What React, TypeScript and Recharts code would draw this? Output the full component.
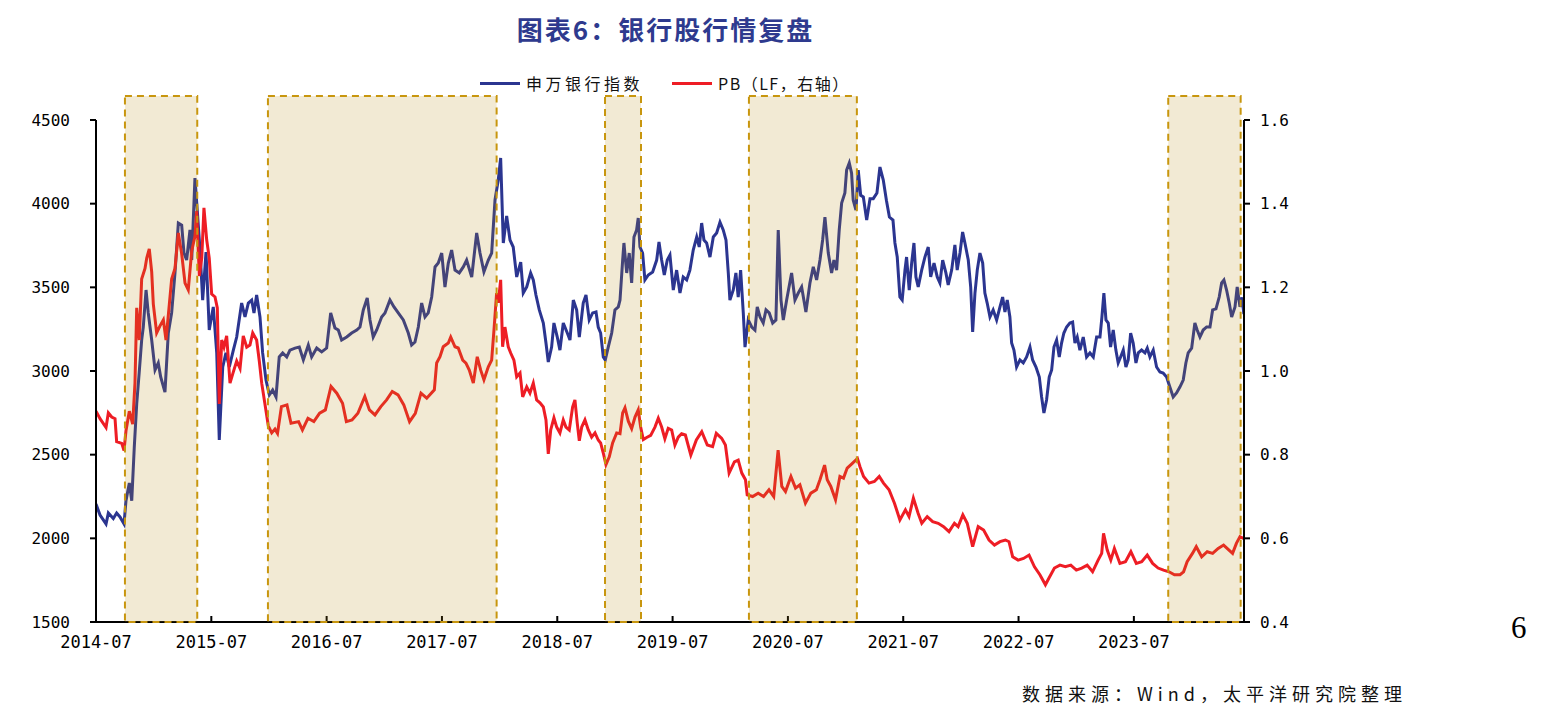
import { ComposedChart, Line, XAxis, YAxis, ReferenceArea } from "recharts";

// [decimal year, value]
const bankIndex: [number, number][] = [
  [2014.500,2205],[2014.535,2139],[2014.587,2086],[2014.607,2151],[2014.650,2118],[2014.679,2151],[2014.708,2128],[2014.743,2086],[2014.760,2225],[2014.789,2331],[2014.810,2225],[2014.832,2546],[2014.853,2803],[2014.875,2994],[2014.896,3185],[2014.910,3263],[2014.934,3484],[2014.953,3347],[2014.983,3185],[2015.012,3006],[2015.040,3048],[2015.061,2964],[2015.098,2874],[2015.127,3227],[2015.156,3347],[2015.185,3586],[2015.214,3884],[2015.243,3872],[2015.263,3705],[2015.286,3663],[2015.315,3843],[2015.330,3663],[2015.358,4153],[2015.378,3962],[2015.402,3723],[2015.425,3424],[2015.454,3711],[2015.482,3245],[2015.517,3383],[2015.547,3108],[2015.569,2588],[2015.599,3024],[2015.627,3108],[2015.656,3024],[2015.691,3125],[2015.720,3203],[2015.763,3406],[2015.792,3323],[2015.821,3406],[2015.850,3424],[2015.870,3347],[2015.893,3454],[2015.922,3323],[2015.945,3108],[2015.974,2946],
  [2016.003,2857],[2016.032,2886],[2016.061,2845],[2016.089,3084],[2016.119,3108],[2016.154,3084],[2016.182,3125],[2016.226,3137],[2016.263,3143],[2016.298,3066],[2016.341,3155],[2016.370,3084],[2016.414,3137],[2016.457,3114],[2016.500,3137],[2016.535,3347],[2016.572,3257],[2016.601,3245],[2016.630,3185],[2016.674,3203],[2016.717,3227],[2016.761,3245],[2016.789,3263],[2016.818,3365],[2016.852,3436],[2016.876,3305],[2016.904,3203],[2016.934,3245],[2016.977,3323],
  [2017.006,3347],[2017.049,3424],[2017.084,3383],[2017.121,3347],[2017.165,3305],[2017.208,3227],[2017.237,3155],[2017.266,3173],[2017.295,3263],[2017.324,3406],[2017.353,3323],[2017.381,3347],[2017.411,3442],[2017.440,3622],[2017.468,3645],[2017.498,3705],[2017.526,3502],[2017.555,3645],[2017.584,3723],[2017.613,3603],[2017.650,3586],[2017.685,3622],[2017.714,3663],[2017.758,3562],[2017.801,3825],[2017.830,3705],[2017.864,3592],[2017.902,3663],[2017.931,3705],[2017.960,4022],[2017.988,4141],
  [2018.009,4273],[2018.032,3765],[2018.061,3926],[2018.090,3783],[2018.118,3741],[2018.148,3562],[2018.183,3651],[2018.205,3466],[2018.235,3502],[2018.269,3586],[2018.292,3544],[2018.315,3454],[2018.344,3365],[2018.379,3287],[2018.402,3167],[2018.422,3054],[2018.451,3143],[2018.471,3287],[2018.500,3203],[2018.523,3125],[2018.552,3287],[2018.587,3227],[2018.610,3185],[2018.639,3424],[2018.668,3365],[2018.691,3203],[2018.725,3406],[2018.749,3454],[2018.777,3305],[2018.807,3347],[2018.836,3353],[2018.855,3263],[2018.876,3227],[2018.899,3084],[2018.916,3066],[2018.942,3143],[2018.972,3227],
  [2019.000,3365],[2019.029,3383],[2019.044,3424],[2019.067,3663],[2019.078,3765],[2019.102,3586],[2019.124,3705],[2019.145,3526],[2019.165,3801],[2019.188,3843],[2019.202,3914],[2019.217,3741],[2019.240,3705],[2019.260,3544],[2019.289,3574],[2019.327,3592],[2019.362,3663],[2019.382,3771],[2019.405,3663],[2019.428,3574],[2019.454,3663],[2019.477,3693],[2019.506,3484],[2019.535,3603],[2019.564,3466],[2019.592,3562],[2019.622,3544],[2019.650,3603],[2019.679,3723],[2019.709,3801],[2019.731,3741],[2019.752,3884],[2019.772,3783],[2019.795,3765],[2019.824,3681],[2019.853,3801],[2019.882,3825],[2019.911,3890],[2019.939,3843],[2019.963,3783],[2019.983,3586],[2019.997,3424],
  [2020.026,3484],[2020.049,3586],[2020.069,3442],[2020.090,3603],[2020.113,3347],[2020.128,3143],[2020.156,3305],[2020.186,3263],[2020.214,3245],[2020.234,3383],[2020.258,3323],[2020.286,3287],[2020.310,3365],[2020.338,3347],[2020.368,3287],[2020.396,3305],[2020.416,3843],[2020.440,3424],[2020.460,3305],[2020.489,3424],[2020.532,3586],[2020.561,3424],[2020.590,3466],[2020.619,3502],[2020.656,3353],[2020.691,3526],[2020.720,3622],[2020.749,3544],[2020.778,3663],[2020.801,3783],[2020.821,3920],[2020.850,3705],[2020.879,3586],[2020.899,3663],[2020.922,3603],[2020.945,3843],[2020.966,4004],[2020.994,4064],
  [2021.009,4201],[2021.032,4243],[2021.052,4183],[2021.066,4022],[2021.090,3962],[2021.110,4201],[2021.131,4050],[2021.154,4040],[2021.183,3902],[2021.212,4030],[2021.240,4030],[2021.272,4064],[2021.298,4219],[2021.327,4141],[2021.354,4020],[2021.380,3920],[2021.411,3902],[2021.428,3765],[2021.448,3681],[2021.471,3442],[2021.491,3424],[2021.515,3603],[2021.529,3681],[2021.552,3484],[2021.573,3645],[2021.593,3765],[2021.610,3562],[2021.630,3502],[2021.660,3603],[2021.688,3681],[2021.717,3741],[2021.738,3562],[2021.767,3645],[2021.795,3562],[2021.818,3526],[2021.842,3663],[2021.870,3586],[2021.890,3514],[2021.920,3603],[2021.948,3753],[2021.968,3603],[2021.992,3705],
  [2022.015,3831],[2022.035,3765],[2022.064,3663],[2022.085,3502],[2022.102,3233],[2022.122,3466],[2022.142,3603],[2022.165,3705],[2022.189,3645],[2022.208,3466],[2022.228,3406],[2022.252,3323],[2022.280,3365],[2022.310,3305],[2022.339,3383],[2022.362,3442],[2022.382,3353],[2022.402,3424],[2022.425,3323],[2022.440,3167],[2022.460,3125],[2022.483,3024],[2022.512,3066],[2022.541,3048],[2022.570,3084],[2022.599,3143],[2022.622,3066],[2022.651,3024],[2022.680,2964],[2022.700,2845],[2022.720,2749],[2022.743,2827],[2022.766,2964],[2022.787,3006],[2022.807,3143],[2022.830,3185],[2022.853,3084],[2022.873,3167],[2022.893,3227],[2022.917,3263],[2022.945,3287],[2022.969,3293],[2022.989,3167],
  [2023.009,3203],[2023.032,3125],[2023.061,3203],[2023.090,3084],[2023.119,3108],[2023.148,3084],[2023.177,3203],[2023.206,3203],[2023.223,3323],[2023.240,3466],[2023.258,3305],[2023.278,3287],[2023.298,3143],[2023.321,3245],[2023.344,3125],[2023.364,3048],[2023.385,3084],[2023.408,3125],[2023.431,3024],[2023.451,3066],[2023.472,3227],[2023.494,3167],[2023.518,3048],[2023.538,3108],[2023.567,3125],[2023.596,3108],[2023.616,3137],[2023.639,3084],[2023.668,3125],[2023.697,3024],[2023.726,2994],[2023.754,2988],[2023.784,2964],[2023.812,2904],[2023.841,2845],[2023.870,2869],[2023.899,2904],[2023.928,2946],[2023.951,3048],[2023.971,3108],
  [2024.001,3137],[2024.029,3287],[2024.049,3245],[2024.073,3203],[2024.101,3245],[2024.131,3263],[2024.160,3263],[2024.183,3365],[2024.212,3371],[2024.240,3442],[2024.261,3526],[2024.281,3544],[2024.304,3484],[2024.327,3406],[2024.348,3323],[2024.377,3383],[2024.396,3502],[2024.420,3383],[2024.437,3440],[2024.454,3340],
];

const pbLF: [number, number][] = [
  [2014.500,0.904],[2014.535,0.886],[2014.587,0.865],[2014.607,0.900],[2014.636,0.890],[2014.665,0.886],[2014.679,0.831],[2014.723,0.827],[2014.743,0.810],[2014.760,0.857],[2014.789,0.904],[2014.818,0.873],[2014.838,0.971],[2014.853,1.151],[2014.875,1.074],[2014.896,1.220],[2014.925,1.245],[2014.940,1.270],[2014.962,1.292],[2014.983,1.237],[2014.997,1.160],
  [2015.026,1.091],[2015.055,1.108],[2015.084,1.122],[2015.107,1.074],[2015.136,1.160],[2015.156,1.220],[2015.185,1.245],[2015.214,1.330],[2015.243,1.280],[2015.272,1.210],[2015.300,1.194],[2015.330,1.287],[2015.358,1.322],[2015.373,1.382],[2015.396,1.227],[2015.417,1.270],[2015.436,1.390],[2015.460,1.313],[2015.482,1.270],[2015.503,1.184],[2015.532,1.177],[2015.552,1.151],[2015.569,0.921],[2015.590,1.074],[2015.610,1.057],[2015.633,1.084],[2015.662,0.971],[2015.691,0.998],[2015.720,1.024],[2015.749,1.006],[2015.777,1.084],[2015.807,1.057],[2015.835,1.062],[2015.859,1.091],[2015.893,1.074],[2015.916,1.024],[2015.937,0.971],[2015.965,0.921],[2015.994,0.869],
  [2016.024,0.852],[2016.052,0.861],[2016.074,0.851],[2016.108,0.915],[2016.156,0.919],[2016.191,0.875],[2016.257,0.879],[2016.290,0.859],[2016.338,0.887],[2016.389,0.879],[2016.439,0.899],[2016.489,0.907],[2016.538,0.963],[2016.588,0.947],[2016.638,0.923],[2016.671,0.879],[2016.720,0.883],[2016.771,0.899],[2016.831,0.939],[2016.871,0.907],[2016.919,0.895],[2016.970,0.915],
  [2017.020,0.931],[2017.069,0.951],[2017.119,0.943],[2017.169,0.919],[2017.219,0.879],[2017.269,0.899],[2017.318,0.947],[2017.368,0.935],[2017.434,0.955],[2017.454,1.019],[2017.483,1.034],[2017.511,1.058],[2017.555,1.067],[2017.576,1.081],[2017.613,1.058],[2017.641,1.055],[2017.680,1.026],[2017.708,1.019],[2017.737,1.002],[2017.772,0.971],[2017.806,1.034],[2017.836,1.002],[2017.864,0.979],[2017.902,1.010],[2017.931,1.026],[2017.951,1.098],[2017.974,1.186],[2017.988,1.163],
  [2018.009,1.218],[2018.026,1.058],[2018.046,1.105],[2018.075,1.058],[2018.096,1.043],[2018.124,1.026],[2018.148,0.986],[2018.177,0.995],[2018.200,0.938],[2018.235,0.962],[2018.263,0.947],[2018.292,0.971],[2018.321,0.931],[2018.350,0.924],[2018.379,0.914],[2018.402,0.883],[2018.422,0.802],[2018.443,0.859],[2018.471,0.888],[2018.495,0.866],[2018.523,0.852],[2018.552,0.883],[2018.575,0.866],[2018.604,0.859],[2018.633,0.914],[2018.653,0.931],[2018.673,0.876],[2018.691,0.833],[2018.712,0.866],[2018.740,0.883],[2018.769,0.859],[2018.798,0.842],[2018.827,0.852],[2018.855,0.835],[2018.876,0.828],[2018.899,0.804],[2018.922,0.776],[2018.951,0.795],[2018.980,0.828],
  [2019.015,0.852],[2019.044,0.850],[2019.067,0.900],[2019.087,0.912],[2019.116,0.880],[2019.145,0.862],[2019.174,0.890],[2019.202,0.907],[2019.223,0.866],[2019.246,0.836],[2019.275,0.841],[2019.310,0.846],[2019.347,0.866],[2019.376,0.887],[2019.405,0.866],[2019.433,0.838],[2019.462,0.863],[2019.492,0.859],[2019.520,0.823],[2019.549,0.842],[2019.578,0.850],[2019.611,0.847],[2019.658,0.799],[2019.706,0.835],[2019.753,0.855],[2019.801,0.823],[2019.847,0.819],[2019.879,0.851],[2019.926,0.839],[2019.958,0.823],[2019.990,0.756],
  [2020.036,0.783],[2020.069,0.787],[2020.100,0.756],[2020.132,0.740],[2020.147,0.704],[2020.194,0.700],[2020.242,0.708],[2020.289,0.700],[2020.336,0.716],[2020.377,0.700],[2020.415,0.811],[2020.447,0.724],[2020.479,0.712],[2020.526,0.748],[2020.566,0.720],[2020.604,0.728],[2020.652,0.684],[2020.699,0.708],[2020.747,0.716],[2020.778,0.740],[2020.818,0.775],[2020.841,0.740],[2020.872,0.724],[2020.913,0.692],[2020.951,0.748],[2020.982,0.744],
  [2021.014,0.768],[2021.061,0.780],[2021.103,0.791],[2021.125,0.771],[2021.156,0.748],[2021.203,0.732],[2021.250,0.736],[2021.292,0.748],[2021.329,0.732],[2021.377,0.716],[2021.424,0.684],[2021.471,0.644],[2021.519,0.668],[2021.550,0.652],[2021.588,0.696],[2021.629,0.660],[2021.661,0.636],[2021.708,0.652],[2021.755,0.640],[2021.803,0.636],[2021.850,0.628],[2021.897,0.616],[2021.944,0.636],[2021.976,0.628],
  [2022.017,0.656],[2022.055,0.636],[2022.102,0.580],[2022.150,0.628],[2022.197,0.620],[2022.244,0.596],[2022.291,0.584],[2022.339,0.592],[2022.386,0.596],[2022.417,0.592],[2022.449,0.556],[2022.496,0.548],[2022.543,0.552],[2022.591,0.560],[2022.638,0.532],[2022.685,0.513],[2022.733,0.489],[2022.764,0.505],[2022.811,0.529],[2022.859,0.536],[2022.906,0.532],[2022.953,0.536],
  [2023.001,0.524],[2023.048,0.529],[2023.095,0.536],[2023.142,0.520],[2023.190,0.548],[2023.221,0.564],[2023.237,0.612],[2023.269,0.572],[2023.300,0.548],[2023.331,0.576],[2023.379,0.540],[2023.427,0.544],[2023.474,0.568],[2023.521,0.540],[2023.568,0.544],[2023.616,0.560],[2023.663,0.540],[2023.710,0.529],[2023.757,0.524],[2023.805,0.520],[2023.852,0.513],[2023.900,0.513],[2023.931,0.520],[2023.962,0.544],
  [2024.008,0.564],[2024.041,0.580],[2024.088,0.556],[2024.136,0.568],[2024.183,0.564],[2024.231,0.576],[2024.278,0.584],[2024.325,0.572],[2024.356,0.564],[2024.389,0.588],[2024.420,0.604],[2024.451,0.600],
];

// shaded phases (start, end) in decimal years
const phases: [number, number][] = [
  [2014.751, 2015.378],
  [2015.991, 2017.974],
  [2018.914, 2019.226],
  [2020.162, 2021.098],
  [2023.798, 2024.426],
];

const yearTicks = [2014.5, 2015.5, 2016.5, 2017.5, 2018.5, 2019.5, 2020.5, 2021.5, 2022.5, 2023.5];
const indexTicks = [1500, 2000, 2500, 3000, 3500, 4000, 4500];
const pbTicks = [0.4, 0.6, 0.8, 1.0, 1.2, 1.4, 1.6];

const indexData = bankIndex.map(([t, v]) => ({ t, v }));
const pbData = pbLF.map(([t, v]) => ({ t, v }));

const BLUE = "#2B3590";
const RED = "#EE1D25";
const GOLD = "#C8960E";
const CJK = "'Noto Sans CJK SC', sans-serif";
const NUM = "'DejaVu Sans Mono', monospace";
const X_DOMAIN: [number, number] = [2014.5, 2024.455];

function LegendItem({ color, label, left, spacing }: { color: string; label: string; left: number; spacing: number }) {
  return (
    <div style={{ position: "absolute", left, top: 71, display: "flex", alignItems: "center" }}>
      <span style={{ display: "inline-block", width: 40, height: 3, background: color }} />
      <span style={{ marginLeft: 6, fontFamily: CJK, fontSize: 16, letterSpacing: spacing, color: "#111" }}>{label}</span>
    </div>
  );
}

export default function App() {
  return (
    <div style={{ position: "absolute", left: 0, top: 0, width: 1554, height: 719, background: "#fff" }}>
      <div
        style={{
          position: "absolute", left: 0, top: 10, width: 1331, textAlign: "center",
          fontFamily: CJK, fontWeight: 700, fontSize: 26, letterSpacing: 2, color: "#2E3A8E",
        }}
      >
        图表6：银行股行情复盘
      </div>
      <LegendItem color={BLUE} label="申万银行指数" left={480} spacing={3.5} />
      <LegendItem color={RED} label="PB（LF，右轴）" left={672} spacing={1.5} />

      <div style={{ position: "absolute", left: 0, top: 0 }}>
        <ComposedChart width={1554} height={719} margin={{ top: 120, right: 250, bottom: 67, left: 36 }}>
          <XAxis
            type="number"
            dataKey="t"
            domain={X_DOMAIN}
            ticks={yearTicks}
            tickFormatter={(v: number) => `${Math.floor(v)}-07`}
            allowDataOverflow
            height={30}
            tickSize={-6}
            tickMargin={20}
            axisLine={{ stroke: "#000", strokeWidth: 2 }}
            tickLine={{ stroke: "#000", strokeWidth: 2 }}
            tick={{ fill: "#000", fontSize: 17, fontFamily: NUM }}
          />
          <YAxis
            yAxisId="left"
            domain={[1500, 4500]}
            ticks={indexTicks}
            width={60}
            tickSize={6}
            tickMargin={20}
            axisLine={{ stroke: "#000", strokeWidth: 2 }}
            tickLine={{ stroke: "#000", strokeWidth: 2 }}
            tick={{ fill: "#000", fontSize: 16, fontFamily: NUM }}
          />
          <YAxis
            yAxisId="right"
            orientation="right"
            domain={[0.4, 1.6]}
            ticks={pbTicks}
            tickFormatter={(v: number) => v.toFixed(1)}
            width={60}
            tickSize={6}
            tickMargin={10}
            axisLine={{ stroke: "#000", strokeWidth: 2 }}
            tickLine={{ stroke: "#000", strokeWidth: 2 }}
            tick={{ fill: "#000", fontSize: 16, fontFamily: NUM }}
          />
          <Line
            yAxisId="left"
            data={indexData}
            dataKey="v"
            stroke={BLUE}
            strokeWidth={3}
            dot={false}
            isAnimationActive={false}
            type="linear"
          />
          <Line
            yAxisId="right"
            data={pbData}
            dataKey="v"
            stroke={RED}
            strokeWidth={3}
            dot={false}
            isAnimationActive={false}
            type="linear"
          />
        </ComposedChart>
      </div>

      {/* translucent phase shading laid over the lines, same scales (axes hidden) */}
      <div style={{ position: "absolute", left: 0, top: 0, pointerEvents: "none" }}>
        <ComposedChart
          width={1554}
          height={719}
          data={indexData}
          margin={{ top: 120, right: 310, bottom: 97, left: 96 }}
        >
          <XAxis type="number" dataKey="t" domain={X_DOMAIN} allowDataOverflow hide />
          <YAxis yAxisId="left" domain={[1500, 4500]} allowDataOverflow hide />
          {phases.map(([a, b], i) => (
            <ReferenceArea
              key={i}
              yAxisId="left"
              x1={a}
              x2={b}
              y1={1500}
              y2={4643}
              ifOverflow="visible"
              fill="#B88D10"
              fillOpacity={0.18}
              stroke={GOLD}
              strokeWidth={2}
              strokeDasharray="7 5"
            />
          ))}
        </ComposedChart>
      </div>

      <div
        style={{
          position: "absolute", left: 1022, top: 680, fontFamily: CJK, fontSize: 18,
          letterSpacing: 5, color: "#111", whiteSpace: "nowrap",
        }}
      >
        数据来源：Wind，太平洋研究院整理
      </div>
      <div style={{ position: "absolute", left: 1511, top: 610, fontFamily: "'Liberation Serif', serif", fontSize: 31, color: "#000" }}>
        6
      </div>
    </div>
  );
}
